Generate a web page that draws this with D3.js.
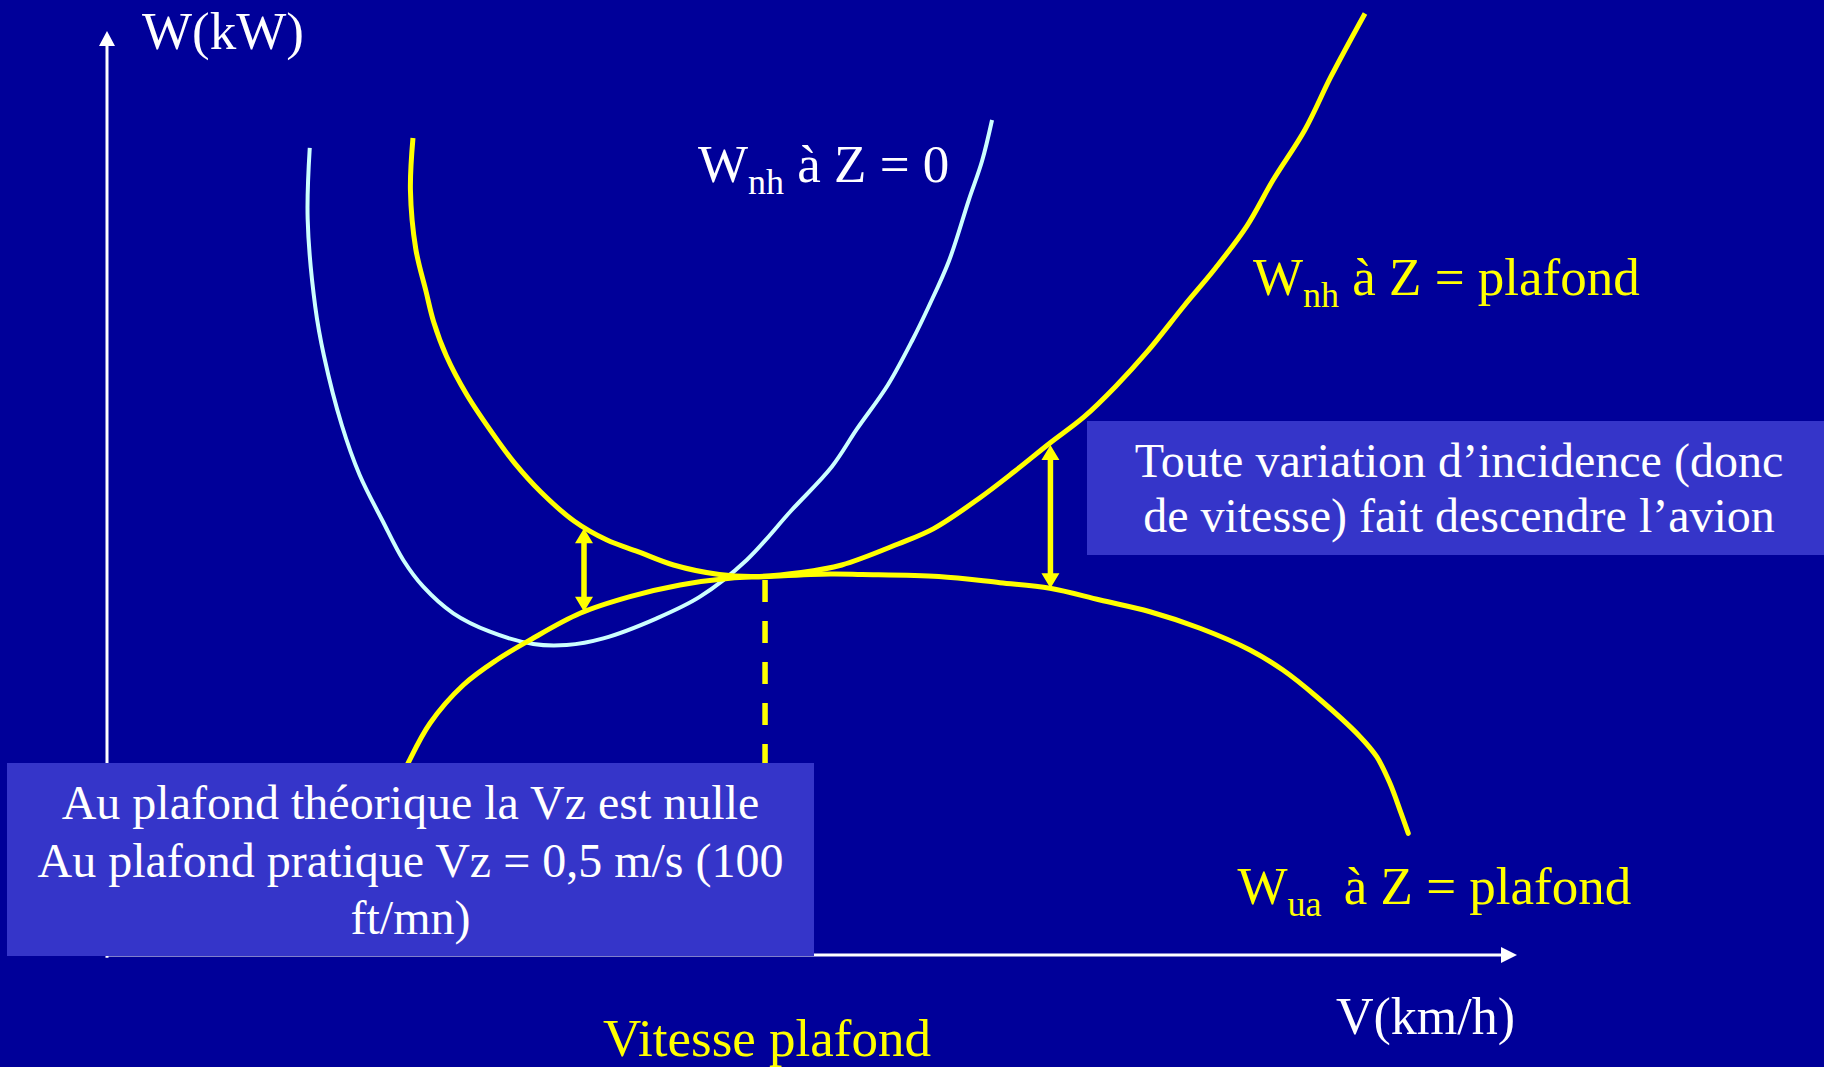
<!DOCTYPE html>
<html>
<head>
<meta charset="utf-8">
<script src="https://cdn.jsdelivr.net/npm/d3@7"></script>
<style>
  html, body { margin: 0; padding: 0; background: #000099; overflow: hidden; }
  svg { display: block; }
  text { font-family: "Liberation Serif", "Times New Roman", serif; }
</style>
</head>
<body>
<div id="chart"></div>
<script>
// Curve W_nh at Z = 0 (light cyan)
const vZero = [14.38, 14.23, 14.77, 15.39, 16.65, 17.92, 19.55, 21.01, 22.43, 24.56, 27.16, 30.23, 32.60, 35.20,
  38.99, 42.06, 45.37, 48.50, 51.39, 53.19, 55.38, 57.16, 58.27, 59.72, 61.13, 62.06, 62.77]
const wZero = [87.36, 79.70, 70.16, 64.83, 57.36, 51.95, 46.97, 42.75, 39.86, 36.98, 34.99, 33.66, 33.55, 34.27,
  36.44, 38.78, 42.75, 48.05, 52.81, 56.93, 61.69, 66.67, 70.16, 75.14, 81.76, 85.93, 90.37]

// Curve W_nh at Z = plafond (yellow)
const vNhPlafond = [21.70, 21.52, 21.90, 22.62, 23.17, 24.07, 25.52, 27.52, 28.94, 30.77, 33.12, 35.46, 37.65, 40.18,
  43.43, 45.96, 49.22, 52.11, 56.10, 58.63, 61.89, 64.40, 66.88, 69.29, 71.53, 73.76, 76.38, 78.62, 80.85, 82.70,
  84.95, 86.81, 89.22]
const wNhPlafond = [88.42, 82.79, 76.41, 71.86, 68.51, 64.83, 60.64, 56.08, 53.18, 50.11, 46.97, 44.91, 43.66, 42.21,
  41.18, 40.96, 41.39, 42.21, 44.48, 46.15, 49.46, 52.38, 55.41, 58.23, 61.53, 65.26, 70.24, 74.35, 78.92, 83.87,
  89.29, 95.08, 101.9]

// Curve W_ua at Z = plafond (yellow)
const vUaPlafond = [20.50, 21.37, 22.91, 25.27, 27.64, 30.00, 33.55, 37.09, 40.64, 44.18, 46.55, 51.28, 53.55, 58.99,
  63.33, 66.88, 70.43, 73.97, 77.52, 81.06, 83.40, 85.79, 88.87, 90.05, 90.99, 91.70, 92.29]
const wUaPlafond = [17.86, 20.81, 25.08, 29.22, 31.93, 34.09, 36.98, 38.78, 40.04, 40.77, 40.94, 41.23, 41.18, 40.96,
  40.29, 39.69, 38.42, 37.15, 35.36, 33.01, 30.84, 27.95, 23.63, 21.46, 18.58, 15.69, 13.17]

// Double arrows between W_nh and W_ua
const arrowV = [33.83, 66.91]
const arrowTop = [46.18, 55.19]
const arrowBottom = [37.15, 39.69]

// Ceiling speed (dashed line)
const vitessePlafond = 46.67
const dashTop = 40.58
const dashBottom = 18

// Texts
const yLabel = "W(kW)"
const xLabel = "V(km/h)"
const speedLabel = "Vitesse plafond"
const boxLeftLines = ["Au plafond théorique la Vz est nulle", "Au plafond pratique Vz = 0,5 m/s (100", "ft/mn)"]
const boxRightLines = ["Toute variation d\u2019incidence (donc", "de vitesse) fait descendre l\u2019avion"]

const width = 1824
const height = 1067
const yellow = "#ffff00"
const cyan = "#ccffff"
const boxFill = "#3535c9"

const svg = d3.select("#chart").append("svg")
  .attr("width", width)
  .attr("height", height)

svg.append("rect").attr("width", width).attr("height", height).attr("fill", "#000099")

// Scales (no graduation on the axes, only arrows)
const xScale = d3.scaleLinear().domain([0, 100]).range([107, 1517])
const yScale = d3.scaleLinear().domain([0, 100]).range([955, 31])

// Axes
svg.append("line")
  .attr("x1", xScale(0)).attr("y1", yScale(-0.3))
  .attr("x2", xScale(0)).attr("y2", yScale(100) + 12)
  .attr("stroke", "white").attr("stroke-width", 3)
svg.append("path")
  .attr("d", `M${xScale(0)},${yScale(100)} l-8,15 l16,0 z`)
  .attr("fill", "white")

svg.append("line")
  .attr("x1", xScale(0)).attr("y1", yScale(0))
  .attr("x2", xScale(100) - 12).attr("y2", yScale(0))
  .attr("stroke", "white").attr("stroke-width", 3)
svg.append("path")
  .attr("d", `M${xScale(100)},${yScale(0)} l-16,-8 l0,16 z`)
  .attr("fill", "white")

const line = d3.line()
  .x(d => xScale(d[0]))
  .y(d => yScale(d[1]))
  .curve(d3.curveCatmullRom.alpha(0.5))

svg.append("path")
  .datum(d3.zip(vZero, wZero))
  .attr("d", line)
  .attr("fill", "none")
  .attr("stroke", cyan)
  .attr("stroke-width", 4)
  .attr("stroke-linejoin", "round")

svg.append("path")
  .datum(d3.zip(vNhPlafond, wNhPlafond))
  .attr("d", line)
  .attr("fill", "none")
  .attr("stroke", yellow)
  .attr("stroke-width", 5)
  .attr("stroke-linejoin", "round")

svg.append("path")
  .datum(d3.zip(vUaPlafond, wUaPlafond))
  .attr("d", line)
  .attr("fill", "none")
  .attr("stroke", yellow)
  .attr("stroke-width", 5)
  .attr("stroke-linejoin", "round")
  .attr("stroke-linecap", "round")

// Dashed line at ceiling speed
svg.append("line")
  .attr("x1", xScale(vitessePlafond)).attr("y1", yScale(dashTop))
  .attr("x2", xScale(vitessePlafond)).attr("y2", yScale(dashBottom))
  .attr("stroke", yellow)
  .attr("stroke-width", 5.5)
  .attr("stroke-dasharray", "22,19")

// Double arrows
arrowV.forEach((v, i) => {
  const x = xScale(v)
  const yt = yScale(arrowTop[i])
  const yb = yScale(arrowBottom[i])
  svg.append("line")
    .attr("x1", x).attr("y1", yt + 10)
    .attr("x2", x).attr("y2", yb - 10)
    .attr("stroke", yellow).attr("stroke-width", 5.5)
  svg.append("path")
    .attr("d", `M${x},${yt} l-9,15 l18,0 z M${x},${yb} l-9,-15 l18,0 z`)
    .attr("fill", yellow)
})

// Text boxes
const boxes = [
  { x: 7, y: 763, w: 807, h: 193, cx: 410.5, y0: 819, lh: 57.5, lines: boxLeftLines },
  { x: 1087, y: 421, w: 745, h: 134, cx: 1459, y0: 476.5, lh: 55.5, lines: boxRightLines }
]
boxes.forEach(b => {
  svg.append("rect")
    .attr("x", b.x).attr("y", b.y)
    .attr("width", b.w).attr("height", b.h)
    .attr("fill", boxFill)
  svg.selectAll(null)
    .data(b.lines)
    .enter()
    .append("text")
    .attr("x", b.cx)
    .attr("y", (d, i) => b.y0 + i * b.lh)
    .attr("text-anchor", "middle")
    .attr("font-size", 48)
    .attr("fill", "white")
    .text(d => d)
})

// Axis titles
svg.append("text")
  .attr("x", 142).attr("y", 49)
  .attr("font-size", 53).attr("fill", "white")
  .text(yLabel)

svg.append("text")
  .attr("x", 1336).attr("y", 1034)
  .attr("font-size", 52).attr("fill", "white")
  .text(xLabel)

svg.append("text")
  .attr("x", 603).attr("y", 1056)
  .attr("font-size", 53).attr("fill", yellow)
  .text(speedLabel)

// Curve labels with subscripts
function curveLabel(x, y, color, sub, rest) {
  const t = svg.append("text")
    .attr("x", x).attr("y", y)
    .attr("font-size", 53)
    .attr("fill", color)
    .attr("xml:space", "preserve")
  t.append("tspan").text("W")
  t.append("tspan").attr("font-size", 36).attr("dy", 12).text(sub)
  t.append("tspan").attr("dy", -12).text(rest)
}
curveLabel(698, 182, "white", "nh", " à Z = 0")
curveLabel(1253, 295, yellow, "nh", " à Z = plafond")
curveLabel(1237.5, 904, yellow, "ua ", " à Z = plafond")
</script>
</body>
</html>
